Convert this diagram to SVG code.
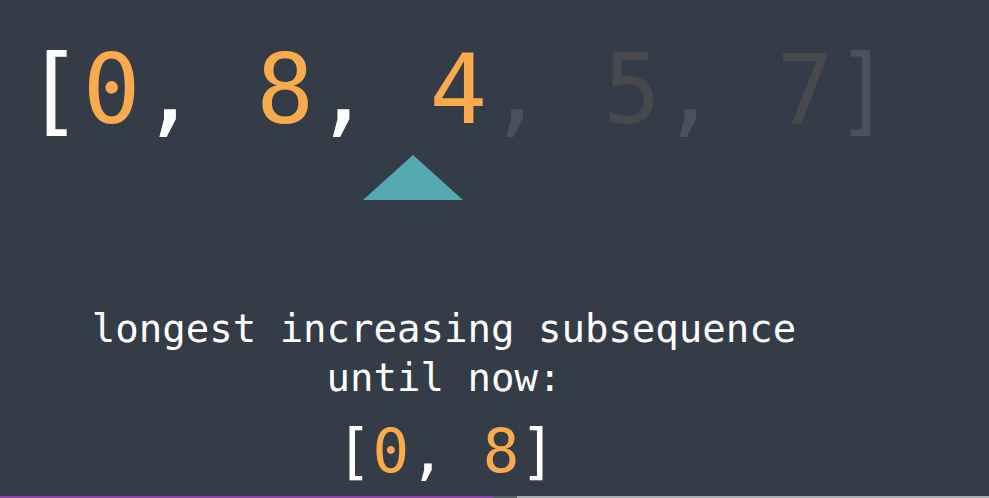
<svg xmlns="http://www.w3.org/2000/svg" width="989" height="498" viewBox="0 0 989 498">
<style>
.mono{font-family:"DejaVu Sans Mono","Liberation Mono",monospace;}
.w{fill:#ffffff}
.o{fill:#f9aa4d}
.fc{fill:#4a505c}
.fd{fill:#48494c}
</style>
<rect width="989" height="498" fill="#333c47"/>
<g id="array">
<text class="mono" x="25" y="123" font-size="96" xml:space="preserve"><tspan class="w">[</tspan><tspan class="o">0</tspan><tspan class="w">, </tspan><tspan class="o">8</tspan><tspan class="w">, </tspan><tspan class="o">4</tspan><tspan class="fc">, </tspan><tspan class="fd">5</tspan><tspan class="fc">, </tspan><tspan class="fd">7</tspan><tspan class="fc">]</tspan></text>
</g>
<g id="pointer">
<polygon points="413,155 363,200 463,200" fill="#57a9b1"/>
</g>
<g id="caption">
<text class="mono w" x="444" y="342" font-size="39" text-anchor="middle">longest increasing subsequence</text>
<text class="mono w" x="444" y="391" font-size="39" text-anchor="middle">until now:</text>
</g>
<g id="result">
<text class="mono" x="446" y="472" font-size="61" text-anchor="middle" xml:space="preserve"><tspan class="w">[</tspan><tspan class="o">0</tspan><tspan class="w">, </tspan><tspan class="o">8</tspan><tspan class="w">]</tspan></text>
</g>
<g id="progress">
<rect x="0" y="496" width="493" height="2" fill="#8e44ad"/>
<rect x="493" y="496" width="24" height="2" fill="#5a6068"/>
<rect x="517" y="496" width="472" height="2" fill="#a9adb0"/>
</g>
</svg>
